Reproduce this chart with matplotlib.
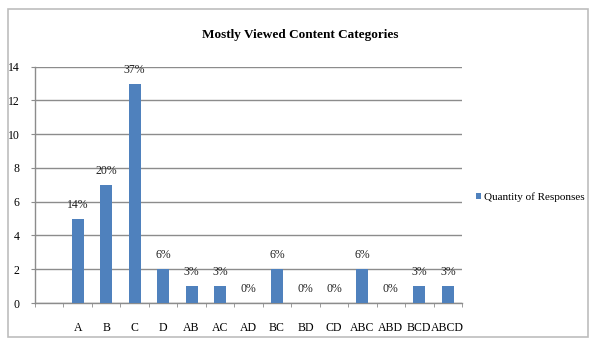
import matplotlib
matplotlib.use("Agg")
import matplotlib.pyplot as plt
from matplotlib.patches import Rectangle
from matplotlib.ticker import MultipleLocator
import numpy as np

# Response combinations (leading slot is left empty on the axis)
categories = ["", "A", "B", "C", "D", "AB", "AC", "AD", "BC", "BD", "CD",
              "ABC", "ABD", "BCD", "ABCD"]
responses = [0, 5, 7, 13, 2, 1, 1, 0, 2, 0, 0, 2, 0, 1, 1]
shares = ["", "14%", "20%", "37%", "6%", "3%", "3%", "0%", "6%", "0%", "0%",
          "6%", "0%", "3%", "3%"]
series_name = "Quantity of Responses"
title = "Mostly Viewed Content Categories"

bar_color = "#4F81BD"
grid_color = "#8c8c8c"
serif = ["Liberation Serif", "DejaVu Serif"]

fig = plt.figure(figsize=(5.91, 3.40), dpi=100)
fig.patch.set_facecolor("white")

# chart-area frame
fig.patches.append(Rectangle((8 / 591, 1 - 337 / 340), 580 / 591, 328 / 340,
                             transform=fig.transFigure, fill=False,
                             edgecolor="#bdbdbd", linewidth=1.2))

ax = fig.add_axes([35 / 591, 1 - 303 / 340, 427 / 591, (303 - 66.7) / 340])
x = np.arange(len(categories))
bars = ax.bar(x, responses, width=0.42, color=bar_color, label=series_name,
              zorder=3)

for xi, v, s in zip(x, responses, shares):
    if s:
        ax.annotate(s, (xi, v), xytext=(0, 10), textcoords="offset points",
                    ha="center", va="center", fontsize=8.5, family=serif,
                    color="#222222")

ax.set_xlim(-0.5, len(categories) - 0.5)
ax.set_ylim(0, 14)
ax.yaxis.set_major_locator(MultipleLocator(2))
ax.grid(axis="y", color=grid_color, linewidth=1.0, zorder=0)

ax.set_xticks(x)
ax.set_xticklabels(categories, family=serif, fontsize=8.5)
ax.set_xticks(np.arange(-0.5, len(categories), 1), minor=True)
ax.tick_params(axis="x", which="major", length=0, pad=14)
ax.tick_params(axis="x", which="minor", length=3, direction="out",
               color=grid_color)
ax.tick_params(axis="y", length=3, direction="out", color=grid_color,
               pad=8)
for lbl in ax.get_yticklabels():
    lbl.set_family(serif)
    lbl.set_fontsize(8.5)

for side in ("top", "right"):
    ax.spines[side].set_visible(False)
for side in ("left", "bottom"):
    ax.spines[side].set_color(grid_color)
    ax.spines[side].set_linewidth(1.0)

fig.text(300 / 591, 1 - 35 / 340, title, ha="center", va="center",
         fontsize=9.5, fontweight="bold", family=serif)

leg = fig.legend(handles=[bars], labels=[series_name],
                 loc="center left", bbox_to_anchor=(472 / 591, 1 - 197 / 340),
                 frameon=False, prop={"family": serif, "size": 8},
                 handlelength=0.45, handleheight=0.45, handletextpad=0.2,
                 borderaxespad=0)

fig.savefig("out.png", dpi=100)
